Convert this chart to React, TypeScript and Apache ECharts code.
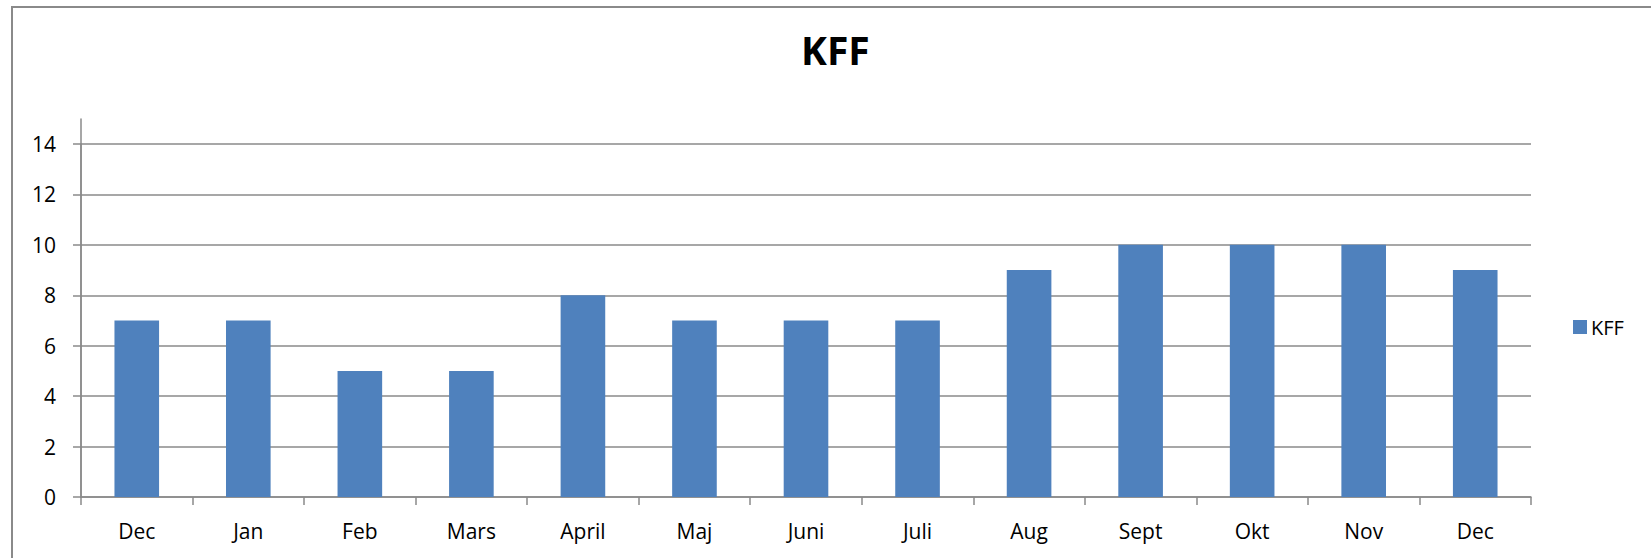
import React, { useEffect, useRef } from "react";
import * as echarts from "echarts";

const categories = ["Dec", "Jan", "Feb", "Mars", "April", "Maj", "Juni", "Juli", "Aug", "Sept", "Okt", "Nov", "Dec"];
const kffValues = [7, 7, 5, 5, 8, 7, 7, 7, 9, 10, 10, 10, 9];
const seriesName = "KFF";
const chartTitle = "KFF";

const FONT = "'Open Sans', 'Noto Sans', sans-serif";
const GRAY = "#8a8a8a";

export default function App() {
  const ref = useRef<HTMLDivElement>(null);

  useEffect(() => {
    if (!ref.current) return;
    const chart = echarts.init(ref.current, null, { renderer: "svg" });
    chart.setOption({
      animation: false,
      backgroundColor: "#ffffff",
      textStyle: { fontFamily: FONT },
      title: {
        text: chartTitle,
        left: 801,
        top: 30,
        padding: 0,
        textStyle: { fontFamily: FONT, fontSize: 39, fontWeight: "bold", color: "#000" },
      },
      legend: {
        data: [seriesName],
        left: 1573,
        top: 317,
        padding: 0,
        itemWidth: 14,
        itemHeight: 14,
        itemGap: 8,
        icon: "rect",
        textStyle: { fontFamily: FONT, fontSize: 20, color: "#000", padding: [0, 0, 0, -1] },
      },
      graphic: [
        {
          type: "rect",
          shape: { x: 12, y: 7, width: 1700, height: 600 },
          style: { fill: "none", stroke: GRAY, lineWidth: 2 },
          silent: true,
        },
      ],
      grid: [
        { left: 81, right: 120, top: 144, bottom: 61, containLabel: false },
        { left: 81, right: 120, top: 119, bottom: 61, containLabel: false },
      ],
      xAxis: [
        {
          type: "category",
          gridIndex: 0,
          data: categories,
          boundaryGap: true,
          axisLine: { show: true, lineStyle: { color: GRAY, width: 1.5 } },
          axisTick: { show: true, alignWithLabel: false, length: 8, inside: false, lineStyle: { color: GRAY, width: 1.5 } },
          axisLabel: { fontFamily: FONT, fontSize: 21, color: "#000", margin: 23, interval: 0 },
          splitLine: { show: false },
        },
        {
          type: "category",
          gridIndex: 1,
          data: categories,
          show: false,
        },
      ],
      yAxis: [
        {
          type: "value",
          gridIndex: 0,
          min: 0,
          max: 14,
          interval: 2,
          axisLine: { show: true, lineStyle: { color: GRAY, width: 1.5 } },
          axisTick: { show: true, length: 8, inside: false, lineStyle: { color: GRAY, width: 1.5 } },
          axisLabel: { fontFamily: FONT, fontSize: 21, color: "#000", margin: 25 },
          splitLine: { show: true, lineStyle: { color: GRAY, width: 1.5 } },
        },
        {
          type: "value",
          gridIndex: 1,
          min: 0,
          max: 15,
          axisLine: { show: true, lineStyle: { color: GRAY, width: 1.5 } },
          axisTick: { show: false },
          axisLabel: { show: false },
          splitLine: { show: false },
        },
      ],
      series: [
        {
          name: seriesName,
          type: "bar",
          xAxisIndex: 0,
          yAxisIndex: 0,
          data: kffValues,
          barCategoryGap: "60%",
          itemStyle: { color: "#4f81bd" },
        },
      ],
    });
    return () => chart.dispose();
  }, []);

  return (
    <div
      ref={ref}
      style={{ position: "absolute", left: 0, top: 0, width: 1651, height: 558 }}
    />
  );
}
